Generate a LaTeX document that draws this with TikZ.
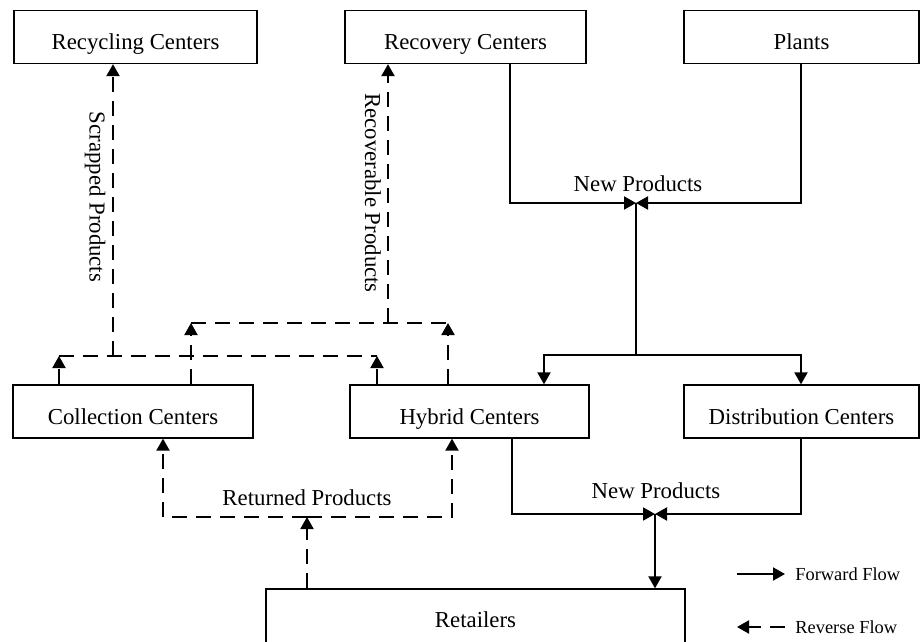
\documentclass[tikz,border=0pt]{standalone}
\usepackage{fontspec}
\setmainfont{Liberation Serif}
\usetikzlibrary{arrows.meta}
\begin{document}
\begin{tikzpicture}[x=0.5pt,y=-0.5pt,
  box/.style={draw, line width=0.65pt, inner sep=0pt, minimum height=26.5pt,
    text height=12.5pt, text depth=0pt, font=\fontsize{11.4}{13}\selectfont},
  lbl/.style={inner sep=0pt, font=\fontsize{11.4}{13}\selectfont},
  leg/.style={inner sep=0pt, anchor=west, font=\fontsize{9.2}{11}\selectfont},
  fline/.style={line width=1pt},
  fwd/.style={line width=1pt, -{Triangle[length=6pt,width=6.5pt]}},
  rline/.style={line width=1pt, dash pattern=on 7.5pt off 4.5pt},
  rev/.style={line width=1pt, dash pattern=on 7.5pt off 4.5pt, -{Triangle[length=6pt,width=6.5pt]}}]
\useasboundingbox (0,0) rectangle (922,642);

% boxes
\node[box, minimum width=121.5pt] (rcy) at (135.5,37) {Recycling Centers};
\node[box, minimum width=120.5pt] (rcv) at (465.5,37) {Recovery Centers};
\node[box, minimum width=117.5pt] (plt) at (801.5,37) {Plants};
\node[box, minimum width=120pt] (col) at (133,411.5) {Collection Centers};
\node[box, minimum width=119.5pt] (hyb) at (469.5,411.5) {Hybrid Centers};
\node[box, minimum width=117.5pt] (dst) at (801.5,411.5) {Distribution Centers};
\node[box, minimum width=209.5pt, minimum height=28pt, text height=10pt] (ret) at (475.5,617) {Retailers};

% forward flow coordinates
\coordinate (ca) at (510,203);
\coordinate (cb) at (801,203);
\coordinate (j1) at (636,203);
\coordinate (s1) at (636,355);
\coordinate (pa) at (544,355);
\coordinate (pb) at (801,355);
\coordinate (hb) at (512,514);
\coordinate (db) at (801,514);
\coordinate (ja) at (655,514);

\draw[fwd] (rcv.south -| ca) |- (j1);
\draw[fwd] (plt.south -| cb) |- (j1);
\draw[fline] (j1) -- (s1);
\draw[fwd] (s1) -| (hyb.north -| pa);
\draw[fwd] (s1) -| (dst.north -| pb);
\draw[fwd] (hyb.south -| hb) |- (ja);
\draw[fwd] (dst.south -| db) |- (ja);
\draw[fwd] (ja) -- (ret.north -| ja);

\node[lbl] (np1) at (638,184) {New Products};
\node[lbl] (np2) at (656,491) {New Products};

% reverse flow coordinates
\coordinate (r0) at (307,517);
\coordinate (rL) at (163,517);
\coordinate (rR) at (452,517);
\coordinate (k1) at (59,356);
\coordinate (k2) at (377,356);
\coordinate (k0) at (113,356);
\coordinate (m1) at (191,323);
\coordinate (m2) at (448,323);
\coordinate (m0) at (388,323);

\draw[rev] (ret.north -| r0) -- (r0);
\draw[rev] (r0) -| (col.south -| rL);
\draw[rev] (r0) -| (hyb.south -| rR);

\draw[rev] (col.north -| k1) -- (k1);
\draw[rev] (hyb.north -| k2) -- (k2);
\draw[rline] (k1) -- (k2);
\draw[rev] (k0) -- (rcy.south -| k0);

\draw[rev] (col.north -| m1) -- (m1);
\draw[rev] (hyb.north -| m2) -- (m2);
\draw[rline] (m1) -- (m2);
\draw[rev] (m0) -- (rcv.south -| m0);

\node[lbl] (rp) at (307,498) {Returned Products};
\node[lbl, rotate=-90] (sp) at (95,197) {Scrapped Products};
\node[lbl, rotate=-90] (rvp) at (373,193) {Recoverable Products};

% legend
\coordinate (lf1) at (737,574);
\coordinate (lf2) at (785,574);
\coordinate (lr1) at (785,627);
\coordinate (lr2) at (737,627);
\draw[fwd] (lf1) -- (lf2);
\draw[rev] (lr1) -- (lr2);
\node[leg] (lft) at (795,574) {Forward Flow};
\node[leg] (lrt) at (795,627) {Reverse Flow};
\end{tikzpicture}
\end{document}
